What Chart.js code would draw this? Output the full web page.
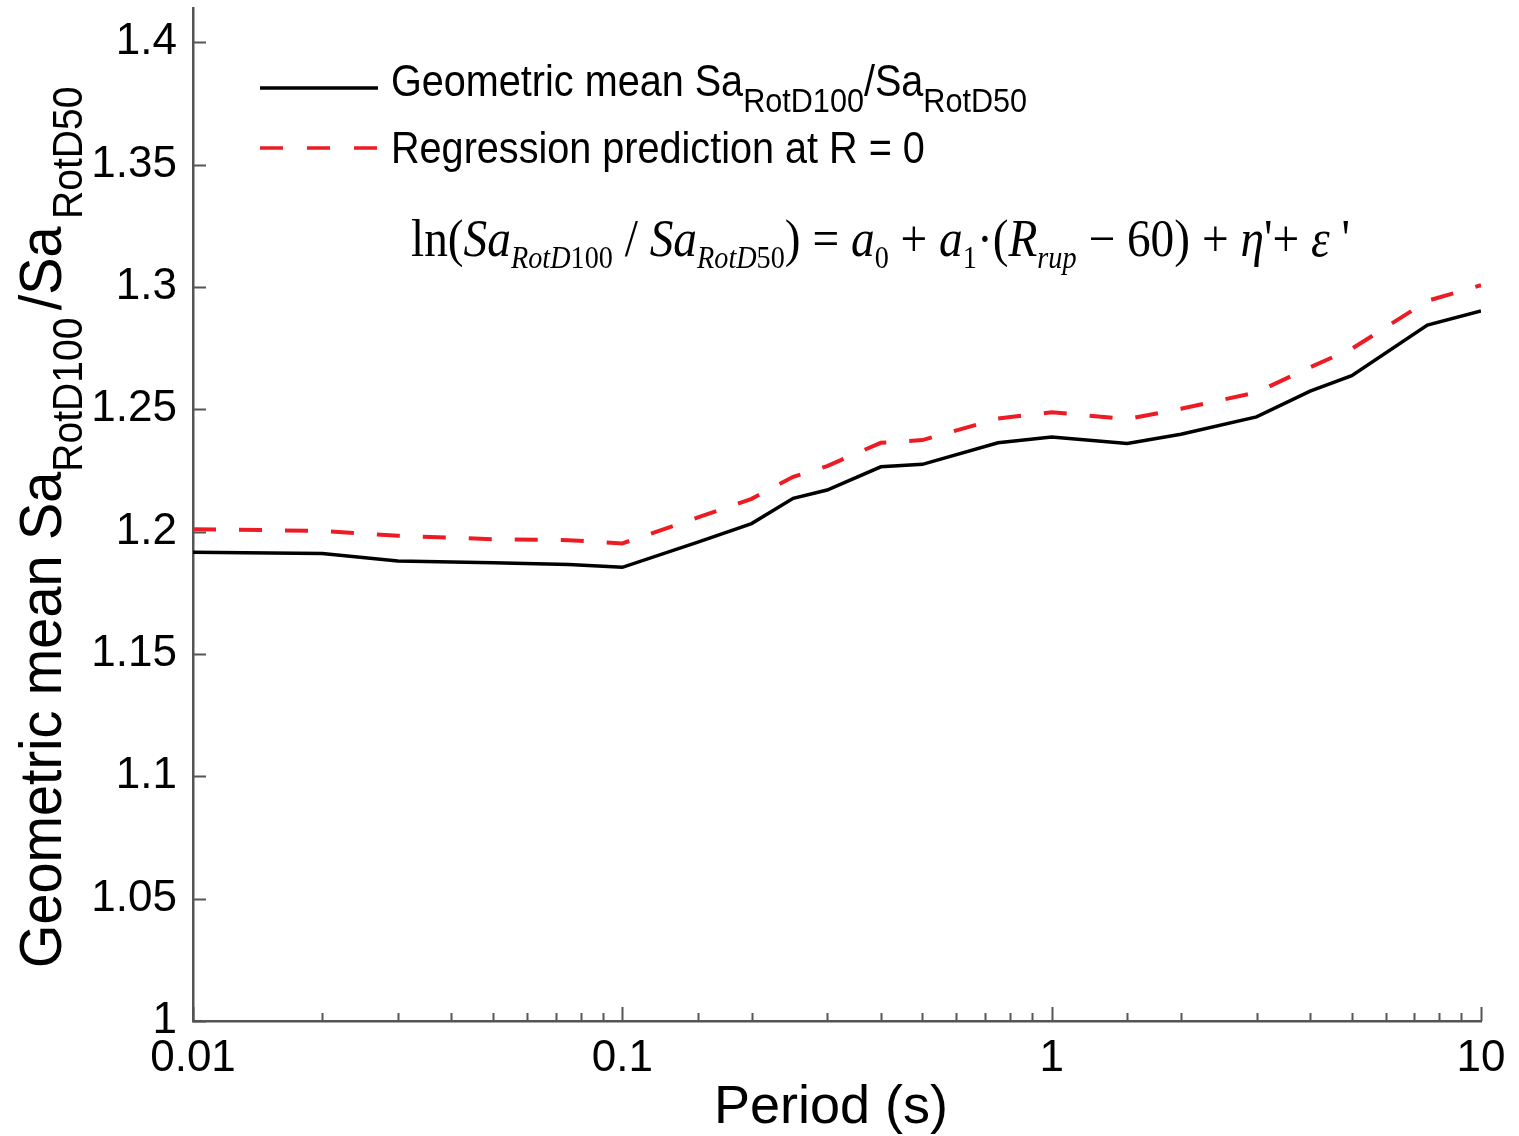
<!DOCTYPE html>
<html>
<head>
<meta charset="utf-8">
<title>RotD100 / RotD50 ratio</title>
<script src="https://cdn.jsdelivr.net/npm/chart.js@4.4.1/dist/chart.umd.min.js"></script>
<style>
  html, body { margin: 0; padding: 0; background: #fff; }
  #wrap { width: 1519px; height: 1136px; }
</style>
</head>
<body>
<div id="wrap"><canvas id="ratioChart" width="1519" height="1136"></canvas></div>
<script>
// periods (s) and ratios
const periods = [0.01, 0.02, 0.03, 0.05, 0.075, 0.1, 0.15, 0.2, 0.25, 0.3, 0.4, 0.5, 0.75, 1, 1.5, 2, 3, 4, 5, 7.5, 10];
const geoMean = [1.1916, 1.1911, 1.1880, 1.1873, 1.1866, 1.1854, 1.1957, 1.2033, 1.2136, 1.2170, 1.2265, 1.2275, 1.2363, 1.2387, 1.2360, 1.2398, 1.2469, 1.2574, 1.2637, 1.2844, 1.2902];
const regression = [1.2010, 1.2003, 1.1983, 1.1969, 1.1965, 1.1952, 1.2058, 1.2134, 1.2224, 1.2268, 1.2363, 1.2374, 1.2462, 1.2488, 1.2460, 1.2502, 1.2569, 1.2672, 1.2747, 1.2943, 1.3007];

const yTicks = [1, 1.05, 1.1, 1.15, 1.2, 1.25, 1.3, 1.35, 1.4];
const yTickLabels = ["1", "1.05", "1.1", "1.15", "1.2", "1.25", "1.3", "1.35", "1.4"];
const xTickMajor = [0.01, 0.1, 1, 10];
const xTickLabels = ["0.01", "0.1", "1", "10"];

const SANS = "'Liberation Sans', Arial, Helvetica, sans-serif";
const SERIF = "'Liberation Serif', 'Times New Roman', serif";
const AXIS_COLOR = "#555";
const RED = "rgb(237, 28, 36)";

function toPoints(xs, ys) {
  return xs.map((x, i) => ({ x: x, y: ys[i] }));
}

// draws a run of text pieces one after another, with optional baseline shift
function drawRun(ctx, parts) {
  let x = 0;
  parts.forEach((p) => {
    ctx.font = p.font;
    ctx.fillText(p.t, x, p.dy || 0);
    x += ctx.measureText(p.t).width + (p.gap || 0);
  });
  return x;
}

function runWidth(ctx, parts) {
  let w = 0;
  parts.forEach((p) => {
    ctx.font = p.font;
    w += ctx.measureText(p.t).width + (p.gap || 0);
  });
  return w;
}

const decorations = {
  id: "decorations",
  afterDraw(chart) {
    const ctx = chart.ctx;
    const area = chart.chartArea;
    const xs = chart.scales.x;
    const ys = chart.scales.y;

    // inward tick marks
    ctx.save();
    ctx.strokeStyle = AXIS_COLOR;
    ctx.lineWidth = 2;
    xs.ticks.forEach((t) => {
      const px = Math.round(xs.getPixelForValue(t.value)) + 0.5;
      const major = xTickMajor.some((m) => Math.abs(m - t.value) < 1e-9);
      ctx.beginPath();
      ctx.moveTo(px, area.bottom);
      ctx.lineTo(px, area.bottom - (major ? 14 : 8));
      ctx.stroke();
    });
    ys.ticks.forEach((t) => {
      const py = Math.round(ys.getPixelForValue(t.value)) + 0.5;
      ctx.beginPath();
      ctx.moveTo(area.left, py);
      ctx.lineTo(area.left + 13, py);
      ctx.stroke();
    });
    ctx.restore();

    ctx.save();
    ctx.fillStyle = "#000";
    ctx.textBaseline = "alphabetic";
    ctx.textAlign = "left";

    // x axis title
    ctx.font = "54px " + SANS;
    ctx.textAlign = "center";
    ctx.fillText("Period (s)", 831, 1123);
    ctx.textAlign = "left";

    // y axis title, rotated, with subscripts
    const yTitle = [
      { t: "Geometric mean Sa", font: "60px " + SANS },
      { t: "RotD100", font: "42px " + SANS, dy: 21, gap: 8 },
      { t: "/Sa", font: "60px " + SANS, gap: 8 },
      { t: "RotD50", font: "42px " + SANS, dy: 21 }
    ];
    ctx.save();
    ctx.translate(61, 968);
    ctx.rotate(-Math.PI / 2);
    ctx.scale(0.93, 1);
    drawRun(ctx, yTitle);
    ctx.restore();

    // legend
    ctx.save();
    ctx.strokeStyle = "#000";
    ctx.lineWidth = 3.5;
    ctx.beginPath();
    ctx.moveTo(260, 88);
    ctx.lineTo(378, 88);
    ctx.stroke();
    ctx.strokeStyle = RED;
    ctx.setLineDash([23, 24]);
    ctx.beginPath();
    ctx.moveTo(260, 148);
    ctx.lineTo(378, 148);
    ctx.stroke();
    ctx.restore();

    const leg1 = [
      { t: "Geometric mean Sa", font: "44px " + SANS },
      { t: "RotD100", font: "34px " + SANS, dy: 16 },
      { t: "/Sa", font: "44px " + SANS },
      { t: "RotD50", font: "34px " + SANS, dy: 16 }
    ];
    ctx.save();
    ctx.translate(391, 96);
    ctx.scale(0.9, 1);
    drawRun(ctx, leg1);
    ctx.restore();

    ctx.save();
    ctx.translate(391, 163);
    ctx.scale(0.9, 1);
    drawRun(ctx, [{ t: "Regression prediction at R = 0", font: "44px " + SANS }]);
    ctx.restore();

    // regression model equation
    const F = 52, S = 31, D = 12;
    const up = F + "px " + SERIF, it = "italic " + F + "px " + SERIF;
    const sUp = S + "px " + SERIF, sIt = "italic " + S + "px " + SERIF;
    const eq = [
      { t: "ln(", font: up },
      { t: "Sa", font: it },
      { t: "RotD", font: sIt, dy: D },
      { t: "100", font: sUp, dy: D },
      { t: " / ", font: up },
      { t: "Sa", font: it },
      { t: "RotD", font: sIt, dy: D },
      { t: "50", font: sUp, dy: D },
      { t: ") = ", font: up },
      { t: "a", font: it },
      { t: "0", font: sUp, dy: D },
      { t: " + ", font: up },
      { t: "a", font: it },
      { t: "1", font: sUp, dy: D },
      { t: "\u00b7(", font: up },
      { t: "R", font: it },
      { t: "rup", font: sIt, dy: D },
      { t: " \u2212 60) + ", font: up },
      { t: "\u03b7", font: it },
      { t: "'+ ", font: up },
      { t: "\u03b5", font: it },
      { t: " '", font: up }
    ];
    const eqW = runWidth(ctx, eq);
    ctx.save();
    ctx.translate(411, 256);
    ctx.scale(939 / eqW, 1);
    drawRun(ctx, eq);
    ctx.restore();

    ctx.restore();
  }
};

const ctx = document.getElementById("ratioChart").getContext("2d");

new Chart(ctx, {
  type: "line",
  data: {
    datasets: [
      {
        label: "Geometric mean SaRotD100/SaRotD50",
        data: toPoints(periods, geoMean),
        borderColor: "#000",
        borderWidth: 3.5,
        pointRadius: 0,
        tension: 0,
        fill: false
      },
      {
        label: "Regression prediction at R = 0",
        data: toPoints(periods, regression),
        borderColor: RED,
        borderWidth: 4,
        borderDash: [23, 23],
        pointRadius: 0,
        tension: 0,
        fill: false
      }
    ]
  },
  options: {
    responsive: false,
    animation: false,
    devicePixelRatio: 1,
    layout: { padding: { top: 8, right: 38, left: 0, bottom: 0 } },
    plugins: {
      legend: { display: false },
      tooltip: { enabled: false },
      title: { display: false }
    },
    scales: {
      x: {
        type: "logarithmic",
        min: 0.01,
        max: 10,
        grid: { display: false },
        border: { display: true, color: AXIS_COLOR, width: 2.5 },
        ticks: {
          autoSkip: false,
          maxRotation: 0,
          padding: 3,
          color: "#000",
          font: { family: SANS, size: 44 },
          callback: (value) => {
            const i = xTickMajor.findIndex((m) => Math.abs(m - value) < 1e-9);
            return i >= 0 ? xTickLabels[i] : "";
          }
        },
        afterFit: (scale) => {
          scale.height = 115;
          scale.paddingLeft = 0;
          scale.paddingRight = 0;
        }
      },
      y: {
        type: "linear",
        min: 1,
        max: 1.414,
        grid: { display: false },
        border: { display: true, color: AXIS_COLOR, width: 2.5 },
        afterBuildTicks: (scale) => {
          scale.ticks = yTicks.map((v) => ({ value: v }));
        },
        ticks: {
          padding: 8,
          color: "#000",
          font: { family: SANS, size: 44 },
          callback: (value, index) => yTickLabels[index]
        },
        afterFit: (scale) => {
          scale.width = 193;
          scale.paddingTop = 0;
          scale.paddingBottom = 0;
        }
      }
    }
  },
  plugins: [decorations]
});
</script>
</body>
</html>
